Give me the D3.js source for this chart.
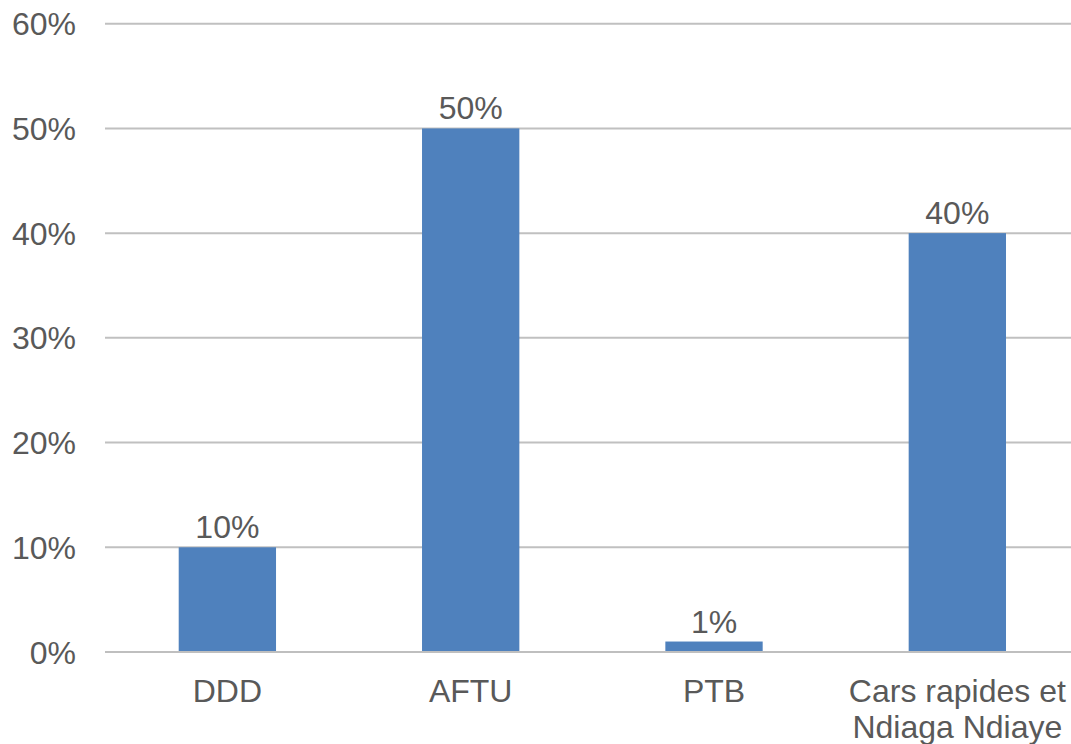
<!DOCTYPE html>
<html><head><meta charset="utf-8">
<script src="https://cdn.jsdelivr.net/npm/d3@7"></script>
<style>body{margin:0;background:#fff}svg{display:block}text{font-family:"Liberation Sans",Arial,sans-serif;fill:#595959}</style>
</head><body><svg id="c" width="1071" height="744"></svg>
<script>
const categories = [["DDD"], ["AFTU"], ["PTB"], ["Cars rapides et", "Ndiaga Ndiaye"]];
const values = [10, 50, 1, 40];
const yTicks = [0, 10, 20, 30, 40, 50, 60];

const svg = d3.select("#c");
const x = d3.scaleBand().domain(d3.range(categories.length)).range([105.7, 1079]).paddingInner(0.6).paddingOuter(0.3);
const y = d3.scaleLinear().domain([0, 60]).range([652, 23.7]);

svg.append("g").selectAll("line").data(yTicks).join("line")
  .attr("x1", 105).attr("x2", 1071)
  .attr("y1", d => y(d)).attr("y2", d => y(d))
  .attr("stroke", "#c0c0c0").attr("stroke-width", 2);

svg.append("g").selectAll("text").data(yTicks).join("text")
  .attr("x", 76).attr("y", d => y(d)).attr("dy", "0.36em")
  .attr("text-anchor", "end").attr("font-size", 32)
  .text(d => d + "%");

svg.append("g").selectAll("rect").data(values).join("rect")
  .attr("x", (d, i) => x(i)).attr("width", x.bandwidth())
  .attr("y", d => y(d)).attr("height", d => y(0) - y(d))
  .attr("fill", "#4f81bd");

svg.append("line").attr("x1", 105).attr("x2", 1071).attr("y1", y(0)).attr("y2", y(0))
  .attr("stroke", "#bfbfbf").attr("stroke-width", 2);

svg.append("g").selectAll("text").data(values).join("text")
  .attr("x", (d, i) => x(i) + x.bandwidth() / 2).attr("y", d => y(d) - 9)
  .attr("text-anchor", "middle").attr("font-size", 32)
  .text(d => d + "%");

const xl = svg.append("g").selectAll("text").data(categories).join("text")
  .attr("x", (d, i) => x(i) + x.bandwidth() / 2).attr("y", 702)
  .attr("text-anchor", "middle").attr("font-size", 32);
xl.selectAll("tspan").data(d => d).join("tspan")
  .attr("x", function() { return d3.select(this.parentNode).attr("x"); })
  .attr("dy", (d, j) => j === 0 ? 0 : 36)
  .text(d => d);
</script></body></html>
